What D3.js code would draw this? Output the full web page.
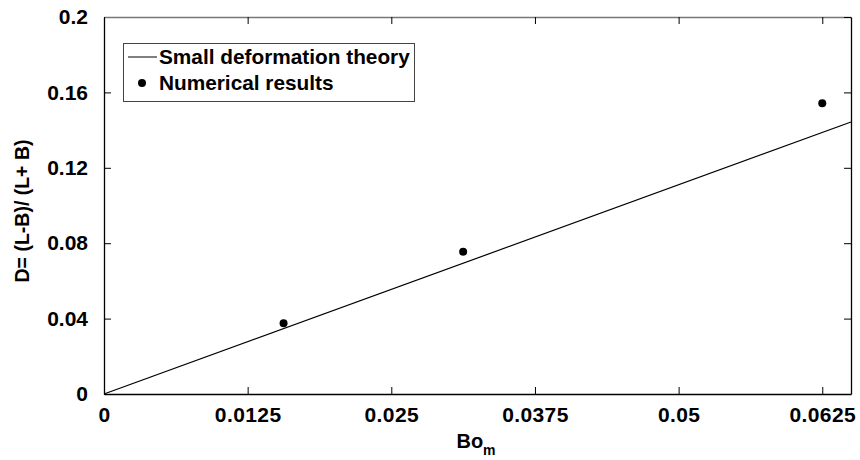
<!DOCTYPE html>
<html>
<head>
<meta charset="utf-8">
<script src="https://cdn.jsdelivr.net/npm/d3@7"></script>
<style>
  body { margin: 0; background: #fff; }
  svg { display: block; font-family: "Liberation Sans", Arial, sans-serif; font-weight: bold; }
</style>
</head>
<body>
<script>
// data
const theoryX = [0, 0.065];
const theoryY = [0, 0.1443];
const numX = [0.015625, 0.03125, 0.0625];
const numY = [0.0375, 0.0755, 0.1542];
const xTicks = [0, 0.0125, 0.025, 0.0375, 0.05, 0.0625];
const yTicks = [0, 0.04, 0.08, 0.12, 0.16, 0.2];
const legendLabels = ["Small deformation theory", "Numerical results"];

const width = 860, height = 460;
const margin = { top: 17, left: 104, right: 9, bottom: 66 };

const svg = d3.select("body").append("svg")
  .attr("width", width).attr("height", height);

const x = d3.scaleLinear().domain([0, 0.065]).range([margin.left, width - margin.right]);
const y = d3.scaleLinear().domain([0, 0.2]).range([height - margin.bottom, margin.top]);

//axes, ticks point inwards
svg.append("g").attr("transform", `translate(0,${y(0)})`)
  .call(d3.axisBottom(x).tickValues(xTicks).tickFormat(d => String(d))
    .tickSizeInner(-7).tickSizeOuter(0).tickPadding(13))
  .call(g => g.selectAll("text").style("font-size", "21px").style("letter-spacing", "0.4px").attr("fill", "#000"));

svg.append("g").attr("transform", `translate(${x(0)},0)`)
  .call(d3.axisLeft(y).tickValues(yTicks).tickFormat(d => String(d))
    .tickSizeInner(-7).tickSizeOuter(0).tickPadding(16))
  .call(g => g.selectAll("text").style("font-size", "21px").attr("fill", "#000"));

svg.append("g").attr("transform", `translate(0,${y(0.2)})`)
  .call(d3.axisTop(x).tickValues(xTicks).tickFormat("").tickSizeInner(-7).tickSizeOuter(0))
  .call(g => g.select(".domain").attr("stroke", "#777"));

svg.append("g").attr("transform", `translate(${x(0.065)},0)`)
  .call(d3.axisRight(y).tickValues(yTicks).tickFormat("").tickSizeInner(-7).tickSizeOuter(0));

svg.selectAll(".domain").attr("stroke-width", 1.3);

// theory line
const line = d3.line().x(d => x(d[0])).y(d => y(d[1]));
svg.append("path")
  .datum(d3.zip(theoryX, theoryY))
  .attr("d", line).attr("fill", "none").attr("stroke", "#000").attr("stroke-width", 1.2);

// numerical points
svg.append("g").selectAll("circle").data(d3.zip(numX, numY)).join("circle")
  .attr("cx", d => x(d[0])).attr("cy", d => y(d[1])).attr("r", 4).attr("fill", "#000");

// legend
const lg = svg.append("g");
lg.append("rect").attr("x", 123.5).attr("y", 43.5).attr("width", 291).attr("height", 58)
  .attr("fill", "#fff").attr("stroke", "#444").attr("stroke-width", 1);
lg.append("line").attr("x1", 128).attr("x2", 157).attr("y1", 57).attr("y2", 57)
  .attr("stroke", "#000").attr("stroke-width", 1);
lg.append("circle").attr("cx", 142).attr("cy", 83).attr("r", 4).attr("fill", "#000");
lg.selectAll("text").data(legendLabels).join("text")
  .attr("x", 159).attr("y", (d, i) => 64 + i * 26)
  .style("font-size", "20.8px").text(d => d);

// axis titles
const xt = svg.append("text").attr("x", 476).attr("y", 448).attr("text-anchor", "middle")
  .style("font-size", "20px");
xt.append("tspan").text("Bo");
xt.append("tspan").attr("dy", 7).style("font-size", "14px").text("m");

svg.append("text").attr("transform", "translate(29,211) rotate(-90)")
  .attr("text-anchor", "middle").style("font-size", "19.5px")
  .text("D= (L-B)/ (L+ B)");
</script>
</body>
</html>
